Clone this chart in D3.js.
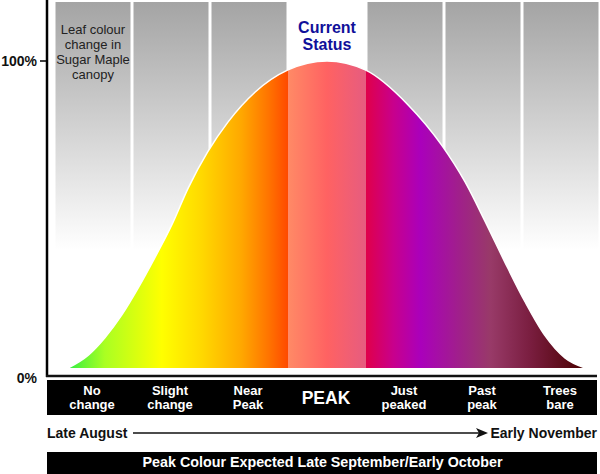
<!DOCTYPE html>
<html><head><meta charset="utf-8">
<script src="https://cdn.jsdelivr.net/npm/d3@7"></script>
<style>html,body{margin:0;padding:0;background:#fff}svg{display:block}</style>
</head><body>
<script>
// ---- data ----
const stages = [["No","change"],["Slight","change"],["Near","Peak"],["PEAK"],["Just","peaked"],["Past","peak"],["Trees","bare"]];
const currentStage = 3;
const curveX = [0.18,0.44,0.65,0.87,1.08,1.29,1.51,1.72,1.97,2.23,2.58,3.00,3.50,3.99,4.54,4.97,5.27,5.53,5.78,6.04,6.29,6.55,6.81];
const curveY = [0,4.2,9.8,17.3,26.1,35.8,46.6,58.6,70.4,80.1,89.9,97.1,100,97.1,85.7,72.6,60.6,47.6,34.5,21.5,10.7,3.3,0];
const yTicks = [{v:100,label:"100%"},{v:0,label:"0%"}];
const colourStops = [
  {x:0.18,c:"#33ee44"},{x:0.65,c:"#aaff22"},{x:1.38,c:"#ffff00"},{x:1.9,c:"#ffd800"},
  {x:2.4,c:"#ffa800"},{x:2.75,c:"#ff7400"},{x:3.0,c:"#ff4a00"},
  {x:3.0,c:"#ff8a66"},{x:3.5,c:"#ff6262"},{x:4.0,c:"#e65c80"},
  {x:4.0,c:"#e0004a"},{x:4.35,c:"#c8008c"},{x:4.7,c:"#aa00bb"},{x:5.2,c:"#a0208a"},
  {x:5.6,c:"#983a68"},{x:6.1,c:"#7a1e40"},{x:6.81,c:"#4a0000"}];
const titleText = ["Leaf colour","change in","Sugar Maple","canopy"];
const statusText = ["Current","Status"];
const startLabel = "Late August", endLabel = "Early November";
const footer = "Peak Colour Expected Late September/Early October";

// ---- drawing ----
const W = 600, H = 474;
const font = "'Liberation Sans', Arial, Helvetica, sans-serif";
const svg = d3.select("body").append("svg").attr("width",W).attr("height",H).style("font-family",font);
const x = d3.scaleLinear().domain([0,7]).range([54,600]);
const y = d3.scaleLinear().domain([0,100]).range([368,61]);
const axisY = y(0)+8;
const defs = svg.append("defs");

const gg = defs.append("linearGradient").attr("id","gray").attr("gradientUnits","userSpaceOnUse")
  .attr("x1",0).attr("x2",0).attr("y1",2).attr("y2",250);
gg.append("stop").attr("offset",0).attr("stop-color","#a4a4a4");
gg.append("stop").attr("offset",0.45).attr("stop-color","#cdcdcd");
gg.append("stop").attr("offset",1).attr("stop-color","#ffffff");

const cg = defs.append("linearGradient").attr("id","leaf").attr("gradientUnits","userSpaceOnUse")
  .attr("x1",x(0)).attr("x2",x(7)).attr("y1",0).attr("y2",0);
cg.selectAll("stop").data(colourStops).join("stop")
  .attr("offset",d=>(x(d.x)-x(0))/(x(7)-x(0))).attr("stop-color",d=>d.c);

// columns
svg.append("g").selectAll("rect").data(stages).join("rect")
  .attr("x",(d,i)=>x(i)+1.5).attr("y",2)
  .attr("width",x(1)-x(0)-3).attr("height",250)
  .attr("fill",(d,i)=>i===currentStage?"#fff":"url(#gray)");

// curve
const pts = curveX.map((v,i)=>[v,curveY[i]]);
svg.append("path").datum(pts)
  .attr("d",d3.area().x(d=>x(d[0])).y0(y(0)).y1(d=>y(d[1])).curve(d3.curveMonotoneX))
  .attr("fill","url(#leaf)");
svg.append("path").datum(pts)
  .attr("d",d3.line().x(d=>x(d[0])).y(d=>y(d[1])).curve(d3.curveMonotoneX))
  .attr("fill","none").attr("stroke","#fff").attr("stroke-width",1.5);

// axes
svg.append("line").attr("x1",47).attr("x2",47).attr("y1",0).attr("y2",axisY+1).attr("stroke","#000").attr("stroke-width",2.5);
svg.append("line").attr("x1",46).attr("x2",597).attr("y1",axisY).attr("y2",axisY).attr("stroke","#111").attr("stroke-width",2.5);
svg.append("line").attr("x1",40).attr("x2",47).attr("y1",y(100)).attr("y2",y(100)).attr("stroke","#000").attr("stroke-width",1.5);
svg.append("g").selectAll("text").data(yTicks).join("text")
  .attr("x",d=>d.v===100?37:37).attr("y",d=>d.v===100?y(100):axisY+2)
  .attr("text-anchor","end").attr("dominant-baseline","central")
  .attr("font-size",14).attr("font-weight","bold").attr("fill","#111").text(d=>d.label);

// title texts
svg.append("text").attr("text-anchor","middle").attr("font-size",13).attr("fill","#222")
  .selectAll("tspan").data(titleText).join("tspan")
  .attr("x",(x(0)+x(1))/2).attr("y",(d,i)=>34+i*15).text(d=>d);
svg.append("text").attr("text-anchor","middle").attr("font-size",16).attr("font-weight","bold").attr("fill","#10109a")
  .selectAll("tspan").data(statusText).join("tspan")
  .attr("x",(x(currentStage)+x(currentStage+1))/2).attr("y",(d,i)=>33+i*16.5).text(d=>d);

// stage band
svg.append("rect").attr("x",47).attr("y",380).attr("width",550).attr("height",35).attr("fill","#000");
const lab = svg.append("g").selectAll("text").data(stages).join("text")
  .attr("text-anchor","middle").attr("fill","#fff").attr("font-weight","bold")
  .attr("font-size",d=>d.length===1?17.5:13);
lab.selectAll("tspan").data((d,i)=>d.map(s=>({s,i,n:d.length}))).join("tspan")
  .attr("x",d=>(x(d.i)+x(d.i+1))/2 - 1)
  .attr("y",(d,j)=>d.n===1?403.5:395+j*14).text(d=>d.s);

// timeline
svg.append("text").attr("x",47).attr("y",438).attr("font-size",14).attr("font-weight","bold").attr("fill","#111").text(startLabel);
svg.append("text").attr("x",597).attr("y",438).attr("text-anchor","end").attr("font-size",14).attr("font-weight","bold").attr("fill","#111").text(endLabel);
svg.append("line").attr("x1",133).attr("x2",482).attr("y1",433).attr("y2",433).attr("stroke","#111").attr("stroke-width",1.3);
svg.append("path").attr("d","M476,428 L488,433 L476,438 L479,433 Z").attr("fill","#111");

// footer
svg.append("rect").attr("x",47).attr("y",452).attr("width",550).attr("height",22).attr("fill","#000");
svg.append("text").attr("x",322.5).attr("y",467).attr("text-anchor","middle").attr("font-size",14.3).attr("font-weight","bold").attr("fill","#fff").text(footer);
</script>
</body></html>
